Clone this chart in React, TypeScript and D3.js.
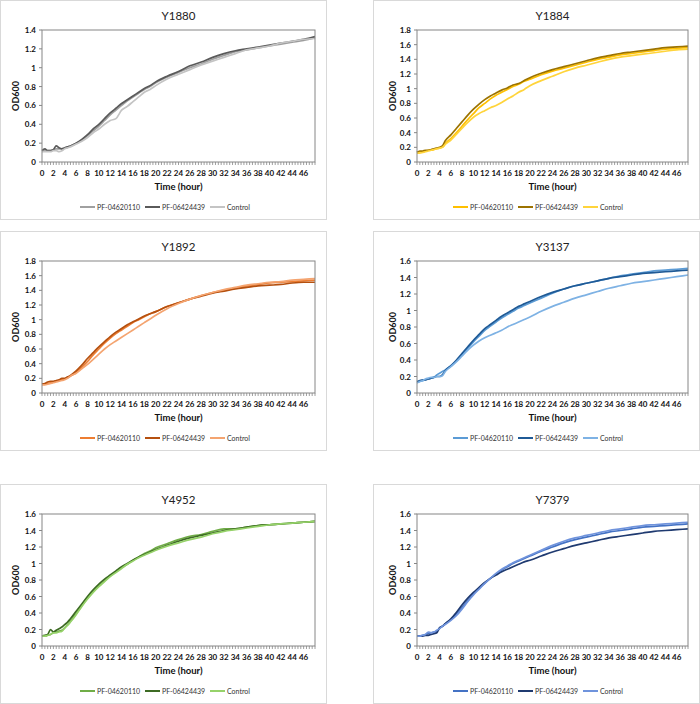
import React from 'react';
import * as d3 from 'd3';

// time points (hours)
const T = [0, 0.5, 1, 1.5, 2, 2.5, 3, 3.5, 4, 4.5, 5, 6, 7, 8, 9, 10, 11, 12, 13, 14, 15, 16, 17, 18, 19, 20, 22, 24, 26, 28, 30, 32, 34, 36, 38, 40, 42, 44, 46, 48];

const SERIES_NAMES = ['PF-04620110', 'PF-06424439', 'Control'];
const X_LABELS = d3.range(0, 47, 2);

// Y1880
const Y1880_A = [0.12, 0.12, 0.12, 0.12, 0.13, 0.14, 0.14, 0.14, 0.15, 0.16, 0.17, 0.20, 0.23, 0.28, 0.33, 0.38, 0.44, 0.50, 0.55, 0.60, 0.65, 0.69, 0.73, 0.77, 0.80, 0.84, 0.90, 0.95, 1.00, 1.04, 1.09, 1.13, 1.17, 1.19, 1.21, 1.23, 1.25, 1.27, 1.29, 1.32];
const Y1880_B = [0.12, 0.14, 0.12, 0.12, 0.13, 0.17, 0.15, 0.14, 0.15, 0.16, 0.17, 0.20, 0.24, 0.29, 0.35, 0.40, 0.46, 0.52, 0.57, 0.62, 0.66, 0.70, 0.74, 0.78, 0.81, 0.85, 0.91, 0.96, 1.02, 1.06, 1.11, 1.15, 1.18, 1.20, 1.22, 1.24, 1.26, 1.28, 1.30, 1.33];
const Y1880_C = [0.11, 0.11, 0.11, 0.11, 0.12, 0.12, 0.11, 0.12, 0.14, 0.15, 0.16, 0.19, 0.22, 0.26, 0.31, 0.35, 0.40, 0.44, 0.46, 0.55, 0.59, 0.64, 0.69, 0.74, 0.77, 0.81, 0.88, 0.93, 0.98, 1.03, 1.07, 1.11, 1.15, 1.19, 1.21, 1.23, 1.26, 1.28, 1.30, 1.31];

// Y1884
const Y1884_A = [0.13, 0.14, 0.14, 0.15, 0.16, 0.16, 0.17, 0.18, 0.19, 0.20, 0.25, 0.32, 0.40, 0.49, 0.58, 0.66, 0.74, 0.80, 0.86, 0.91, 0.95, 0.99, 1.03, 1.06, 1.10, 1.13, 1.19, 1.24, 1.28, 1.32, 1.36, 1.40, 1.43, 1.46, 1.48, 1.50, 1.52, 1.54, 1.55, 1.56];
const Y1884_B = [0.13, 0.15, 0.15, 0.16, 0.16, 0.17, 0.18, 0.19, 0.20, 0.22, 0.29, 0.37, 0.46, 0.55, 0.64, 0.72, 0.79, 0.85, 0.90, 0.94, 0.98, 1.01, 1.05, 1.07, 1.11, 1.15, 1.21, 1.26, 1.30, 1.34, 1.38, 1.42, 1.45, 1.48, 1.50, 1.52, 1.54, 1.56, 1.57, 1.58];
const Y1884_C = [0.12, 0.12, 0.13, 0.14, 0.15, 0.16, 0.17, 0.18, 0.19, 0.20, 0.24, 0.30, 0.38, 0.46, 0.54, 0.61, 0.66, 0.70, 0.74, 0.77, 0.81, 0.86, 0.90, 0.95, 0.99, 1.04, 1.11, 1.17, 1.23, 1.28, 1.32, 1.36, 1.40, 1.43, 1.45, 1.47, 1.49, 1.51, 1.53, 1.54];

// Y1892
const Y1892_A = [0.12, 0.12, 0.13, 0.14, 0.15, 0.16, 0.17, 0.18, 0.19, 0.21, 0.23, 0.28, 0.35, 0.43, 0.52, 0.60, 0.68, 0.75, 0.81, 0.86, 0.91, 0.96, 1.00, 1.04, 1.08, 1.11, 1.18, 1.23, 1.28, 1.33, 1.37, 1.40, 1.43, 1.46, 1.48, 1.50, 1.51, 1.52, 1.53, 1.54];
const Y1892_B = [0.12, 0.13, 0.15, 0.16, 0.16, 0.17, 0.18, 0.20, 0.20, 0.22, 0.24, 0.30, 0.38, 0.47, 0.55, 0.63, 0.70, 0.77, 0.83, 0.88, 0.93, 0.97, 1.01, 1.05, 1.08, 1.11, 1.18, 1.23, 1.28, 1.32, 1.36, 1.39, 1.42, 1.44, 1.46, 1.47, 1.48, 1.50, 1.51, 1.51];
const Y1892_C = [0.11, 0.11, 0.12, 0.13, 0.14, 0.15, 0.16, 0.17, 0.18, 0.20, 0.23, 0.27, 0.33, 0.39, 0.46, 0.53, 0.60, 0.66, 0.71, 0.76, 0.81, 0.86, 0.91, 0.96, 1.01, 1.06, 1.15, 1.22, 1.28, 1.33, 1.37, 1.41, 1.44, 1.47, 1.49, 1.51, 1.52, 1.54, 1.55, 1.56];

// Y3137
const Y3137_A = [0.13, 0.14, 0.15, 0.16, 0.17, 0.18, 0.19, 0.22, 0.24, 0.26, 0.28, 0.33, 0.39, 0.46, 0.54, 0.62, 0.69, 0.76, 0.81, 0.86, 0.91, 0.95, 0.99, 1.03, 1.06, 1.09, 1.15, 1.21, 1.26, 1.30, 1.33, 1.36, 1.39, 1.42, 1.44, 1.46, 1.48, 1.49, 1.50, 1.51];
const Y3137_B = [0.14, 0.15, 0.16, 0.16, 0.17, 0.18, 0.19, 0.20, 0.20, 0.22, 0.27, 0.33, 0.40, 0.48, 0.56, 0.64, 0.71, 0.78, 0.83, 0.88, 0.93, 0.97, 1.01, 1.05, 1.08, 1.11, 1.17, 1.22, 1.26, 1.30, 1.33, 1.36, 1.39, 1.41, 1.43, 1.45, 1.46, 1.47, 1.48, 1.49];
const Y3137_C = [0.12, 0.14, 0.15, 0.17, 0.18, 0.19, 0.19, 0.20, 0.20, 0.21, 0.26, 0.32, 0.38, 0.45, 0.52, 0.58, 0.63, 0.67, 0.70, 0.73, 0.76, 0.80, 0.83, 0.86, 0.89, 0.92, 0.99, 1.05, 1.10, 1.15, 1.19, 1.23, 1.27, 1.30, 1.33, 1.35, 1.37, 1.39, 1.41, 1.43];

// Y4952
const Y4952_A = [0.12, 0.12, 0.13, 0.14, 0.16, 0.17, 0.18, 0.19, 0.22, 0.26, 0.30, 0.39, 0.49, 0.58, 0.66, 0.73, 0.79, 0.85, 0.90, 0.95, 0.99, 1.04, 1.08, 1.12, 1.15, 1.19, 1.24, 1.29, 1.33, 1.35, 1.39, 1.42, 1.42, 1.44, 1.46, 1.47, 1.48, 1.49, 1.50, 1.51];
const Y4952_B = [0.12, 0.13, 0.14, 0.20, 0.17, 0.19, 0.21, 0.23, 0.26, 0.29, 0.33, 0.42, 0.51, 0.60, 0.68, 0.75, 0.81, 0.86, 0.91, 0.96, 1.00, 1.04, 1.08, 1.11, 1.14, 1.17, 1.22, 1.27, 1.31, 1.34, 1.37, 1.40, 1.42, 1.44, 1.46, 1.47, 1.48, 1.49, 1.50, 1.51];
const Y4952_C = [0.12, 0.12, 0.13, 0.14, 0.16, 0.16, 0.17, 0.18, 0.22, 0.25, 0.29, 0.38, 0.48, 0.57, 0.65, 0.72, 0.78, 0.84, 0.89, 0.94, 0.99, 1.03, 1.07, 1.10, 1.13, 1.16, 1.21, 1.25, 1.29, 1.32, 1.36, 1.39, 1.41, 1.43, 1.45, 1.47, 1.48, 1.49, 1.50, 1.51];

// Y7379
const Y7379_A = [0.12, 0.12, 0.13, 0.14, 0.15, 0.16, 0.17, 0.18, 0.22, 0.24, 0.27, 0.32, 0.39, 0.47, 0.55, 0.63, 0.70, 0.76, 0.82, 0.87, 0.92, 0.96, 1.00, 1.03, 1.06, 1.09, 1.15, 1.20, 1.25, 1.29, 1.32, 1.35, 1.38, 1.40, 1.42, 1.44, 1.45, 1.46, 1.47, 1.48];
const Y7379_B = [0.12, 0.12, 0.12, 0.13, 0.13, 0.14, 0.15, 0.16, 0.22, 0.24, 0.27, 0.33, 0.41, 0.50, 0.58, 0.65, 0.71, 0.77, 0.82, 0.86, 0.90, 0.93, 0.96, 0.99, 1.02, 1.04, 1.09, 1.14, 1.18, 1.22, 1.25, 1.28, 1.31, 1.33, 1.35, 1.37, 1.39, 1.40, 1.41, 1.42];
const Y7379_C = [0.12, 0.12, 0.13, 0.14, 0.17, 0.16, 0.17, 0.19, 0.21, 0.24, 0.26, 0.31, 0.37, 0.45, 0.54, 0.62, 0.69, 0.76, 0.82, 0.88, 0.93, 0.97, 1.01, 1.04, 1.07, 1.10, 1.16, 1.22, 1.27, 1.31, 1.34, 1.37, 1.40, 1.42, 1.44, 1.46, 1.47, 1.48, 1.49, 1.50];

const COLS = [
  { bx: 0, bw: 326, pl: 42, pr: 315, yt: 15 },
  { bx: 373, bw: 326, pl: 417, pr: 688, yt: 392 },
];
const ROWS = [0, 231, 484];

const PANELS = [
  { title: 'Y1880', col: 0, row: 0, yMax: 1.4, colors: ['#a0a0a0', '#5a5a5a', '#c4c4c4'], series: [Y1880_A, Y1880_B, Y1880_C] },
  { title: 'Y1884', col: 1, row: 0, yMax: 1.8, colors: ['#ffc000', '#9c7300', '#ffd43b'], series: [Y1884_A, Y1884_B, Y1884_C] },
  { title: 'Y1892', col: 0, row: 1, yMax: 1.8, colors: ['#ed7d31', '#b5500f', '#f4a470'], series: [Y1892_A, Y1892_B, Y1892_C] },
  { title: 'Y3137', col: 1, row: 1, yMax: 1.6, colors: ['#5b9bd5', '#1f5a96', '#7eb2e4'], series: [Y3137_A, Y3137_B, Y3137_C] },
  { title: 'Y4952', col: 0, row: 2, yMax: 1.6, colors: ['#70ad47', '#3d6b24', '#96d26a'], series: [Y4952_A, Y4952_B, Y4952_C] },
  { title: 'Y7379', col: 1, row: 2, yMax: 1.6, colors: ['#4472c4', '#1f3a70', '#6f93dc'], series: [Y7379_A, Y7379_B, Y7379_C] },
];

const FONT = "Lato, 'Open Sans', 'DejaVu Sans', sans-serif";

function Panel({ p }: { p: typeof PANELS[number] }) {
  const c = COLS[p.col];
  const by = ROWS[p.row];
  const top = by + 30;
  const bottom = by + 162;
  const x = d3.scaleLinear().domain([0, 48]).range([c.pl, c.pr]);
  const y = d3.scaleLinear().domain([0, p.yMax]).range([bottom, top]);
  const line = d3
    .line<number>()
    .x((_, i) => x(T[i]))
    .y((d) => y(d))
    .curve(d3.curveMonotoneX);
  const yTicks = d3.range(0, p.yMax + 1e-9, 0.2);
  const minor = d3.range(0, 48.001, 0.5);
  const cx = c.bx + c.bw / 2;
  const legendStart = cx - 83;
  return (
    <g>
      <rect x={c.bx + 0.5} y={by + 0.5} width={c.bw} height={219} fill="#fff" stroke="#d9d9d9" />
      <text x={(c.pl + c.pr) / 2} y={by + 15} textAnchor="middle" dominantBaseline="central" fontSize={11.5} fill="#222">
        {p.title}
      </text>
      {yTicks.map((t) => (
        <g key={'y' + t}>
          <line x1={c.pl - 3} x2={c.pl} y1={y(t)} y2={y(t)} stroke="#868686" />
          <text x={c.pl - 6} y={y(t)} textAnchor="end" dominantBaseline="central" fontSize={8} fontWeight="bold" fill="#111">
            {String(+t.toFixed(1))}
          </text>
        </g>
      ))}
      {minor.map((t) => (
        <line key={'m' + t} x1={x(t)} x2={x(t)} y1={bottom} y2={bottom + 3} stroke="#868686" strokeWidth={0.8} />
      ))}
      {X_LABELS.map((t) => (
        <text key={'x' + t} x={x(t)} y={bottom + 11} textAnchor="middle" dominantBaseline="central" fontSize={8} fontWeight="bold" fill="#111">
          {t}
        </text>
      ))}
      <text
        transform={`translate(${c.yt},${(top + bottom) / 2}) rotate(-90)`}
        textAnchor="middle"
        dominantBaseline="central"
        fontSize={9}
        fontWeight="bold"
        fill="#111"
      >
        OD600
      </text>
      <text x={(c.pl + c.pr) / 2} y={by + 186} textAnchor="middle" dominantBaseline="central" fontSize={9.5} fontWeight="bold" fill="#111">
        Time (hour)
      </text>
      {p.series.map((s, i) => (
        <path key={'s' + i} d={line(s) || ''} fill="none" stroke={p.colors[i]} strokeWidth={1.7} strokeLinejoin="round" />
      ))}
      <rect x={c.pl} y={top} width={c.pr - c.pl} height={bottom - top} fill="none" stroke="#868686" strokeWidth={1} />
      {SERIES_NAMES.map((n, i) => (
        <g key={'l' + i}>
          <line x1={legendStart + i * 65} x2={legendStart + i * 65 + 15} y1={by + 207} y2={by + 207} stroke={p.colors[i]} strokeWidth={2} />
          <text x={legendStart + i * 65 + 17} y={by + 207} dominantBaseline="central" fontSize={7} fill="#333">
            {n}
          </text>
        </g>
      ))}
    </g>
  );
}

export default function App() {
  return (
    <svg width={700} height={704} style={{ position: 'absolute', left: 0, top: 0, fontFamily: FONT, background: '#fff' }}>
      <rect width={700} height={704} fill="#fff" />
      {PANELS.map((p) => (
        <Panel key={p.title} p={p} />
      ))}
    </svg>
  );
}
